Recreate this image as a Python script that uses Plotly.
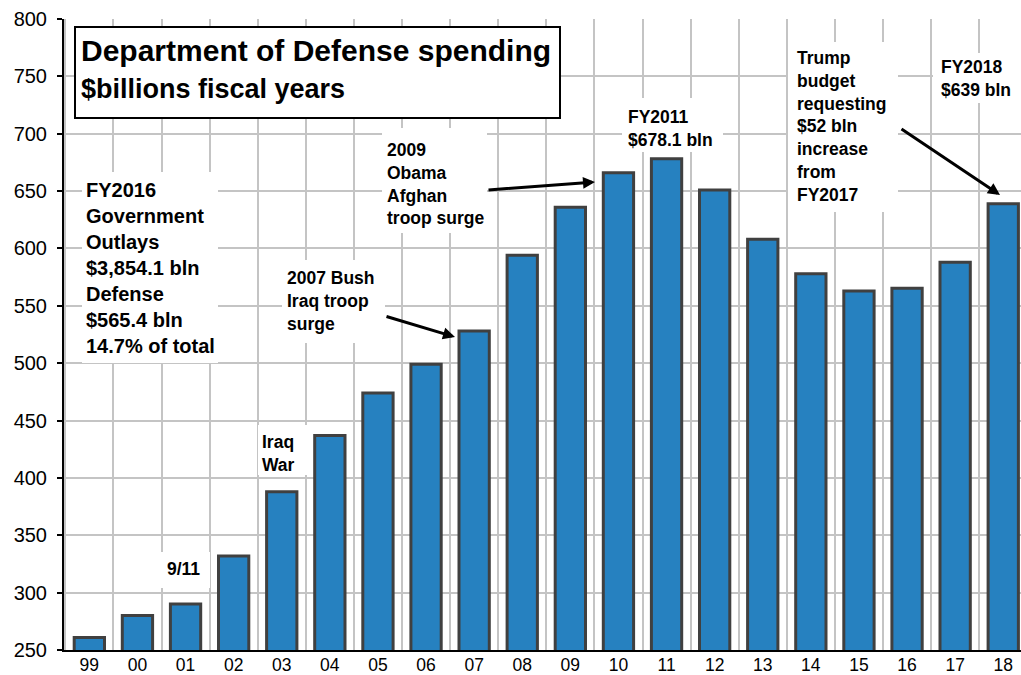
import plotly.graph_objects as go

# ---------------- data ----------------
years = ['99', '00', '01', '02', '03', '04', '05', '06', '07', '08',
         '09', '10', '11', '12', '13', '14', '15', '16', '17', '18']
spending = [261, 280, 290, 332, 388, 437, 474, 499, 528, 594,
            636, 666, 678.1, 651, 608, 578, 563, 565.4, 588, 639]

y_ticks = [250, 300, 350, 400, 450, 500, 550, 600, 650, 700, 750, 800]

title_line1 = "Department of Defense spending"
title_line2 = "$billions fiscal years"

notes = {
    "fy2016": "FY2016<br>Government<br>Outlays<br>$3,854.1 bln<br>Defense<br>$565.4 bln<br>14.7% of total",
    "bush": "2007 Bush<br>Iraq troop<br>surge",
    "obama": "2009<br>Obama<br>Afghan<br>troop surge",
    "fy2011": "FY2011<br>$678.1 bln",
    "fy2018": "FY2018<br>$639 bln",
    "trump": "Trump<br>budget<br>requesting<br>$52 bln<br>increase<br>from<br>FY2017",
    "911": "9/11",
    "iraq": "Iraq<br>War",
}

# ---------------- layout helpers (pixel -> paper) ----------------
W_FIG, H_FIG = 1021, 675
L, T, B, R = 64, 19, 25, 0
PW = W_FIG - L - R
PH = H_FIG - T - B


def PX(x):
    return (x - L) / PW


def PY(y):
    return (T + PH - y) / PH


FONT = "Liberation Sans, Arial, sans-serif"
BAR_FILL = "#2681C0"
BAR_EDGE = "#404040"
GRID = "#C4C4C4"

xpos = list(range(len(years)))

fig = go.Figure()
fig.add_trace(go.Bar(
    x=xpos, y=spending, width=0.63,
    marker=dict(color=BAR_FILL, line=dict(color=BAR_EDGE, width=3)),
    hoverinfo="skip", showlegend=False,
))

cat_px = 48.1
left_edge = -0.5 - (65.3 - L) / cat_px
right_edge = left_edge + PW / cat_px

fig.update_layout(
    width=W_FIG, height=H_FIG,
    margin=dict(l=L, r=R, t=T, b=B, pad=0),
    paper_bgcolor="white", plot_bgcolor="white",
    font=dict(family=FONT, color="black"),
    template="none",
)

fig.update_xaxes(
    range=[left_edge, right_edge], tickmode="array", tickvals=xpos, ticktext=years,
    tickfont=dict(size=17.5, family=FONT, color="black"),
    showgrid=False, zeroline=False, showline=True, linecolor="black", linewidth=2,
    ticks="", ticklen=0, automargin=False, ticklabelstandoff=-2,
    minor=dict(tickmode="array", tickvals=[i - 0.5 for i in range(len(years) + 1)],
               showgrid=True, gridcolor=GRID, gridwidth=2, ticks=""),
)
fig.update_yaxes(
    range=[250, 800], tickmode="array", tickvals=y_ticks,
    tickfont=dict(size=20, family=FONT, color="black"),
    showgrid=True, gridcolor=GRID, gridwidth=2, zeroline=False,
    showline=True, linecolor="black", linewidth=2,
    ticks="outside", ticklen=5, tickwidth=2, tickcolor="black", automargin=False,
    ticklabelstandoff=6,
)

shapes = []


def white_box(x0, y0, x1, y1, border=False):
    shapes.append(dict(
        type="rect", xref="paper", yref="paper",
        x0=PX(x0), x1=PX(x1), y0=PY(y1), y1=PY(y0),
        fillcolor="white",
        line=dict(color="black", width=2) if border else dict(width=0),
        layer="above",
    ))


white_box(75, 27, 560, 118, border=True)
white_box(82, 172, 218, 363)
white_box(282, 260, 385, 343)
white_box(382, 128, 487, 233)
white_box(622, 98, 723, 152)
white_box(933, 53, 1021, 103)
white_box(788, 42, 898, 212)
white_box(160, 552, 210, 588)
white_box(258, 425, 307, 475)
fig.update_layout(shapes=shapes)

annotations = []


def text(x, y, s, size):
    annotations.append(dict(
        xref="paper", yref="paper", x=PX(x), y=PY(y), xanchor="left", yanchor="top",
        text="<b>" + s + "</b>", showarrow=False, align="left", borderpad=0,
        font=dict(family=FONT, size=size, color="black"),
    ))


def arrow(tx, ty, hx, hy):
    annotations.append(dict(
        xref="paper", yref="paper", x=PX(hx), y=PY(hy),
        ax=tx - hx, ay=ty - hy, axref="pixel", ayref="pixel",
        text="", showarrow=True, arrowhead=2, arrowsize=0.8, arrowwidth=3,
        arrowcolor="black",
    ))


text(80, 60 - 0.905 * 30, title_line1, 30)
text(80, 97 - 0.905 * 27, title_line2, 27)

text(85, 196 - 0.905 * 20, notes["fy2016"], 20)
S = 17.5
text(286, 283.3 - 0.905 * S, notes["bush"], S)
text(386, 155 - 0.905 * S, notes["obama"], S)
text(626.5, 121.7 - 0.905 * S, notes["fy2011"], S)
text(939.5, 72 - 0.905 * S, notes["fy2018"], S)
text(796, 63.3 - 0.905 * S, notes["trump"], S)
text(165.5, 574 - 0.905 * S, notes["911"], S)
text(261, 446.7 - 0.905 * S, notes["iraq"], S)

arrow(385, 316, 455, 337)
arrow(487, 190, 595, 182)
arrow(900, 128, 1000, 195)

fig.update_layout(annotations=annotations)

fig.write_html("out.html")
